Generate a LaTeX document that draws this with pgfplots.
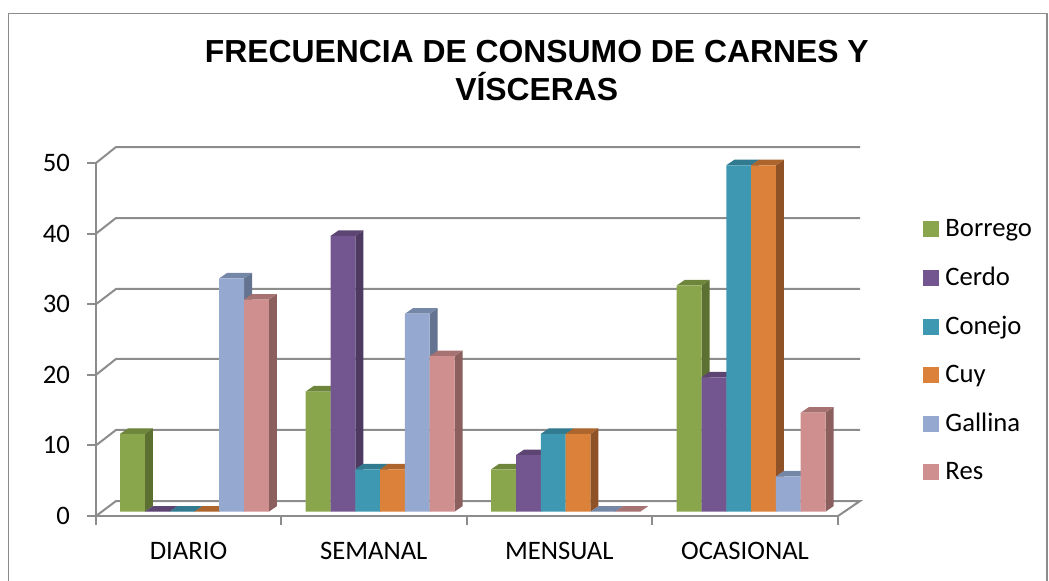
\documentclass[border=0pt]{standalone}
\usepackage{fontspec}
\usepackage{pgfplots}
\pgfplotsset{compat=1.18}
\setmainfont{Carlito}
\newfontfamily\titlefont{Liberation Sans}[BoldFont={Liberation Sans Bold}]
\definecolor{gridc}{RGB}{140,140,140}
\definecolor{cA}{RGB}{138,166,77}\definecolor{sA}{RGB}{92,112,50}\definecolor{tA}{RGB}{110,133,60}
\definecolor{cB}{RGB}{115,86,143}\definecolor{sB}{RGB}{78,58,97}\definecolor{tB}{RGB}{92,69,115}
\definecolor{cC}{RGB}{63,152,178}\definecolor{sC}{RGB}{43,103,120}\definecolor{tC}{RGB}{50,122,143}
\definecolor{cD}{RGB}{220,129,58}\definecolor{sD}{RGB}{142,82,38}\definecolor{tD}{RGB}{171,101,45}
\definecolor{cE}{RGB}{149,169,208}\definecolor{sE}{RGB}{100,115,143}\definecolor{tE}{RGB}{117,135,166}
\definecolor{cF}{RGB}{208,143,143}\definecolor{sF}{RGB}{140,95,95}\definecolor{tF}{RGB}{166,114,114}
% side and top faces of one bar: left x, value, series letter
\newcommand{\faces}[3]{%
  \pgfmathsetmacro\xa{#1+24.8}\pgfmathsetmacro\xb{#1+32.8}\pgfmathsetmacro\xc{#1+8}\pgfmathsetmacro\ya{#2+0.78}%
  \addplot[forget plot,fill=s#3,draw=none] coordinates {(\xa,0) (\xb,0.78) (\xb,\ya) (\xa,#2)} --cycle;
  \addplot[forget plot,fill=t#3,draw=none] coordinates {(#1,#2) (\xc,\ya) (\xb,\ya) (\xa,#2)} --cycle;
}
\begin{document}
\begin{tikzpicture}
\path[use as bounding box] (0,0) rectangle (786.75pt,435.75pt);
\draw[gridc,line width=1.2pt] (6.4pt,0) -- (6.4pt,425.6pt) -- (785.4pt,425.6pt) -- (785.4pt,0);
\node[font=\titlefont\bfseries\fontsize{23.9pt}{28pt}\selectfont,align=center,anchor=base] at (402.6pt,388.6pt) {FRECUENCIA DE CONSUMO DE CARNES Y};
\node[font=\titlefont\bfseries\fontsize{23.9pt}{28pt}\selectfont,align=center,anchor=base] at (402.6pt,360.5pt) {VÍSCERAS};
\begin{axis}[
  at={(72pt,48.75pt)},anchor=south west,
  scale only axis,width=556.5pt,height=264.75pt,
  xmin=96,xmax=838,ymin=-0.608,ymax=49.32,
  clip=false,
  axis x line*=bottom,axis y line*=left,
  axis line style={gridc,line width=1.5pt},
  tick style={gridc,line width=1.5pt},
  major tick length=6.75pt,
  tick align=outside,
  xtick={96,281,466.5,652,838},
  x tick label as interval,
  xticklabels={DIARIO,SEMANAL,MENSUAL,OCASIONAL},
  ytick={-0.61,9.38,19.36,29.35,39.33,49.32},
  yticklabels={0,10,20,30,40,50},
  tick label style={font=\fontsize{20pt}{23pt}\selectfont},
  xticklabel style={yshift=-9.5pt},
  yticklabel style={xshift=-9.3pt},
  legend style={at={(axis cs:923,41.75)},anchor=north west,draw=none,fill=none,
    font=\fontsize{20pt}{23pt}\selectfont,row sep=17.5pt,inner sep=0pt},
  legend cell align=left,
]
% walls and floor
\addplot[gridc,line width=1.5pt,forget plot] coordinates {(96,-0.61) (116,1.51) (860,1.51) (838,-0.61)};
\addplot[gridc,line width=1.5pt,forget plot] coordinates {(96,9.38) (116,11.56) (860,11.56)};
\addplot[gridc,line width=1.5pt,forget plot] coordinates {(96,19.36) (116,21.6) (860,21.6)};
\addplot[gridc,line width=1.5pt,forget plot] coordinates {(96,29.35) (116,31.5) (860,31.5)};
\addplot[gridc,line width=1.5pt,forget plot] coordinates {(96,39.33) (116,41.54) (860,41.54)};
\addplot[gridc,line width=1.5pt,forget plot] coordinates {(96,49.32) (116,51.58) (860,51.58)};
% Borrego
\faces{120}{11}{A}\faces{305.7}{17}{A}\faces{491.2}{6}{A}\faces{676.7}{32}{A}
\addplot[forget plot,ybar,bar width=18.6pt,bar shift=0pt,fill=cA,draw=none] coordinates {(132.4,11) (318.1,17) (503.6,6) (689.1,32)};
% Cerdo
\faces{144.8}{0}{B}\faces{330.5}{39}{B}\faces{516}{8}{B}\faces{701.5}{19}{B}
\addplot[forget plot,ybar,bar width=18.6pt,bar shift=0pt,fill=cB,draw=none] coordinates {(157.2,0) (342.9,39) (528.4,8) (713.9,19)};
% Conejo
\faces{169.6}{0}{C}\faces{355.3}{6}{C}\faces{540.8}{11}{C}\faces{726.3}{49}{C}
\addplot[forget plot,ybar,bar width=18.6pt,bar shift=0pt,fill=cC,draw=none] coordinates {(182,0) (367.7,6) (553.2,11) (738.7,49)};
% Cuy
\faces{194.4}{0}{D}\faces{380.1}{6}{D}\faces{565.6}{11}{D}\faces{751.1}{49}{D}
\addplot[forget plot,ybar,bar width=18.6pt,bar shift=0pt,fill=cD,draw=none] coordinates {(206.8,0) (392.5,6) (578,11) (763.5,49)};
% Gallina
\faces{219.2}{33}{E}\faces{404.9}{28}{E}\faces{590.4}{0}{E}\faces{775.9}{5}{E}
\addplot[forget plot,ybar,bar width=18.6pt,bar shift=0pt,fill=cE,draw=none] coordinates {(231.6,33) (417.3,28) (602.8,0) (788.3,5)};
% Res
\faces{244}{30}{F}\faces{429.7}{22}{F}\faces{615.2}{0}{F}\faces{800.7}{14}{F}
\addplot[forget plot,ybar,bar width=18.6pt,bar shift=0pt,fill=cF,draw=none] coordinates {(256.4,30) (442.1,22) (627.6,0) (813.1,14)};
% legend
\addlegendimage{legend image code/.code={\fill[cA] (0,-5.6pt) rectangle (11.25pt,5.6pt);\path (14.25pt,0);}}\addlegendentry{Borrego}
\addlegendimage{legend image code/.code={\fill[cB] (0,-5.6pt) rectangle (11.25pt,5.6pt);\path (14.25pt,0);}}\addlegendentry{Cerdo}
\addlegendimage{legend image code/.code={\fill[cC] (0,-5.6pt) rectangle (11.25pt,5.6pt);\path (14.25pt,0);}}\addlegendentry{Conejo}
\addlegendimage{legend image code/.code={\fill[cD] (0,-5.6pt) rectangle (11.25pt,5.6pt);\path (14.25pt,0);}}\addlegendentry{Cuy}
\addlegendimage{legend image code/.code={\fill[cE] (0,-5.6pt) rectangle (11.25pt,5.6pt);\path (14.25pt,0);}}\addlegendentry{Gallina}
\addlegendimage{legend image code/.code={\fill[cF] (0,-5.6pt) rectangle (11.25pt,5.6pt);\path (14.25pt,0);}}\addlegendentry{Res}
\end{axis}
\end{tikzpicture}
\end{document}
